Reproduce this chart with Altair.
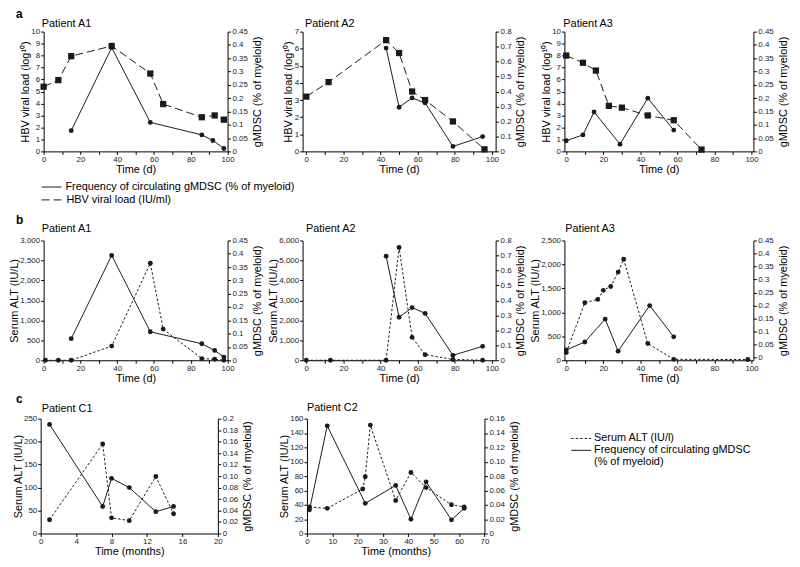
import altair as alt
import pandas as pd

# ---------------- data ----------------
# a: HBV viral load (log10) and circulating gMDSC (% of myeloid)
a1_hbv_day = [0, 8, 15, 37, 58, 65, 86, 93, 98]
a1_hbv_val = [5.4, 5.95, 7.95, 8.8, 6.5, 3.95, 2.85, 3.0, 2.65]
a1_gm_day = [15, 37, 58, 86, 92, 98]
a1_gm_val = [0.078, 0.39, 0.109, 0.062, 0.041, 0.011]

a2_hbv_day = [0, 12, 43, 50, 57, 64, 79, 96]
a2_hbv_val = [3.2, 4.05, 6.5, 5.75, 3.5, 3.0, 1.75, 0.12]
a2_gm_day = [43, 50, 57, 64, 79, 95]
a2_gm_val = [0.69, 0.295, 0.357, 0.324, 0.033, 0.099]

a3_hbv_day = [0, 9, 16, 23, 30, 44, 58, 73]
a3_hbv_val = [8.0, 7.4, 6.75, 3.8, 3.65, 3.0, 2.6, 0.15]
a3_gm_day = [0, 9, 15, 29, 44, 58]
a3_gm_val = [0.04, 0.062, 0.148, 0.027, 0.2, 0.08]

# b: serum ALT (IU/L) and gMDSC
b1_alt_day = [1, 8, 15, 37, 58, 65, 86, 93, 98]
b1_alt_val = [0, 0, 0, 355, 2430, 780, 40, 25, 0]
b1_gm_day = [15, 37, 58, 86, 93, 98]
b1_gm_val = [0.081, 0.394, 0.107, 0.062, 0.037, 0.012]

b2_alt_day = [0, 13, 43, 50, 57, 64, 79, 95]
b2_alt_val = [0, 0, 0, 5650, 1150, 280, 40, 0]
b2_gm_day = [43, 50, 57, 64, 79, 95]
b2_gm_val = [0.695, 0.287, 0.352, 0.313, 0.033, 0.093]

b3_alt_day = [0, 10, 17, 20, 24, 28, 31, 44, 58, 98]
b3_alt_val = [160, 1200, 1270, 1460, 1540, 1840, 2110, 350, 20, 15]
b3_gm_day = [0, 10, 21, 28, 45, 58]
b3_gm_val = [0.03, 0.06, 0.148, 0.025, 0.2, 0.08]

# c: serum ALT (IU/L) and gMDSC, time in months
c1_alt_mo = [1, 7, 8, 10, 13, 15]
c1_alt_val = [30, 195, 34, 28, 124, 43]
c1_gm_mo = [1, 7, 8, 10, 13, 15]
c1_gm_val = [0.19, 0.047, 0.096, 0.08, 0.038, 0.047]

c2_alt_mo = [1, 8, 22, 23, 25, 35, 41, 47, 57, 62]
c2_alt_val = [37, 35, 62, 79, 151, 46, 85, 64, 40, 37]
c2_gm_mo = [1, 8, 23, 35, 41, 47, 57, 62]
c2_gm_val = [0.033, 0.15, 0.042, 0.067, 0.02, 0.072, 0.019, 0.035]

# tick values
ticks_day = [0, 10, 20, 30, 40, 50, 60, 70, 80, 90, 100]
ticks_c1_x = [0, 4, 8, 12, 16, 20]
ticks_c2_x = [0, 10, 20, 30, 40, 50, 60, 70]
ticks_log10 = [0, 1, 2, 3, 4, 5, 6, 7, 8, 9, 10]
ticks_log7 = [0, 1, 2, 3, 4, 5, 6, 7]
ticks_045 = [0, 0.05, 0.1, 0.15, 0.2, 0.25, 0.3, 0.35, 0.4, 0.45]
ticks_08 = [0, 0.1, 0.2, 0.3, 0.4, 0.5, 0.6, 0.7, 0.8]
ticks_alt3000 = [0, 500, 1000, 1500, 2000, 2500, 3000]
ticks_alt6000 = [0, 1000, 2000, 3000, 4000, 5000, 6000]
ticks_alt2500 = [0, 500, 1000, 1500, 2000, 2500]
ticks_alt250 = [0, 50, 100, 150, 200, 250]
ticks_alt160 = [0, 20, 40, 60, 80, 100, 120, 140, 160]
ticks_020 = [0, 0.02, 0.04, 0.06, 0.08, 0.1, 0.12, 0.14, 0.16, 0.18, 0.2]
ticks_016 = [0, 0.02, 0.04, 0.06, 0.08, 0.1, 0.12, 0.14, 0.16]

# ---------------- styling / layout ----------------
FONT = "Liberation Sans"
INK = "#1a1a1a"
W, H = 792, 559
M = 8  # page margin; chart origin sits at page (8, 8)
TXT = 11

HBV_DASH = [8, 4]
ALT_DASH = [2.5, 2]


def axis(**kw):
    base = dict(grid=False, domainColor="black", tickColor="black",
                labelColor="#222", titleColor="black", labelFont=FONT,
                titleFont=FONT, labelFontSize=8, titleFontSize=TXT,
                titleFontWeight="normal", tickSize=3, labelPadding=1.5,
                labelFlush=False, labelOverlap=False, domainWidth=1,
                tickWidth=1, titlePadding=4)
    base.update(kw)
    return alt.Axis(**base)


def series(xs, vals, xscale, yscale, xaxis, yaxis, dash, marker):
    df = pd.DataFrame({"t": xs, "v": vals})
    lkw = dict(color=INK, strokeWidth=1)
    if dash:
        lkw["strokeDash"] = dash
    line = alt.Chart(df).mark_line(**lkw).encode(
        x=alt.X("t:Q", scale=xscale, axis=xaxis),
        y=alt.Y("v:Q", scale=yscale, axis=yaxis),
    )
    if marker == "square":
        pm = alt.Chart(df).mark_square(size=40, color=INK, opacity=1)
    else:
        pm = alt.Chart(df).mark_circle(size=24, color=INK, opacity=1)
    pts = pm.encode(
        x=alt.X("t:Q", scale=xscale, axis=None),
        y=alt.Y("v:Q", scale=yscale, axis=None),
    )
    return [line, pts]


def panel(x0, x1, xdom, y0, y1, xticks, xexpr, xtitle,
          ldom, lticks, lfmt, ltitle, rdom, rticks, rexpr, rtitle,
          ls, rs, ldash, lmarker):
    xscale = alt.Scale(domain=xdom, range=[x0 - M, x1 - M], nice=False, zero=False)
    lscale = alt.Scale(domain=ldom, range=[y1 - M, y0 - M], nice=False, zero=False)
    rscale = alt.Scale(domain=rdom, range=[y1 - M, y0 - M], nice=False, zero=False)
    xaxis = axis(orient="bottom", offset=(y1 - M) - H, values=xticks,
                 labelExpr=xexpr, title=xtitle, titlePadding=0)
    laxis = axis(orient="left", offset=-(x0 - M), values=lticks,
                 format=lfmt, title=ltitle, labelPadding=1, titlePadding=0.5)
    raxis = axis(orient="right", offset=(x1 - M) - W, values=rticks,
                 labelExpr=rexpr, title=rtitle, titleAngle=270,
                 titleBaseline="top", titlePadding=4)
    layers = []
    layers += series(ls[0], ls[1], xscale, lscale, xaxis, laxis, ldash, lmarker)
    layers += series(rs[0], rs[1], xscale, rscale, None, raxis, None, "circle")
    return layers


def label(text, x, y, size=TXT, weight="normal"):
    return alt.Chart(pd.DataFrame({"s": [text]})).mark_text(
        align="left", baseline="middle", font=FONT, fontSize=size,
        fontWeight=weight, color="black",
    ).encode(x=alt.value(x - M), y=alt.value(y - M), text="s:N")


def key_line(x1, x2, y, dash):
    kw = dict(color=INK, strokeWidth=1)
    if dash:
        kw["strokeDash"] = dash
    return alt.Chart(pd.DataFrame({"k": [0]})).mark_rule(**kw).encode(
        x=alt.value(x1 - M), x2=alt.value(x2 - M), y=alt.value(y - M))


X20 = "datum.value % 20 == 0 ? format(datum.value, 'd') : ''"
XALL = "format(datum.value, 'd')"
R_G = "datum.value == 0 ? '0' : format(datum.value, '~g')"
R_C1 = "datum.value == 0 ? '0' : (datum.value > 0.195 ? '0.2' : format(datum.value, '.2f'))"
R_C2 = "datum.value == 0 ? '0' : format(datum.value, '.2f')"

T_HBV = "HBV viral load (log\u00b9\u2070)"
T_GM = "gMDSC (% of myeloid)"
T_ALT = "Serum ALT (IU/L)"

# column geometry (page px)
A1X = (44, 229.8, [0, 100])
A2X = (305.6, 500.6, [-2, 102])
A3X = (570.1, 761, [-1, 101])
RA = (29, 150)
RB = (240, 361)
RC = (420, 536)

layers = []
# row a
layers += panel(*A1X, *RA, ticks_day, X20, "Time (d)", [0, 10], ticks_log10, "d", T_HBV,
                [0, 0.45], ticks_045, R_G, T_GM, (a1_hbv_day, a1_hbv_val),
                (a1_gm_day, a1_gm_val), HBV_DASH, "square")
layers += panel(*A2X, *RA, ticks_day, X20, "Time (d)", [0, 7], ticks_log7, "d", T_HBV,
                [0, 0.8], ticks_08, R_G, T_GM, (a2_hbv_day, a2_hbv_val),
                (a2_gm_day, a2_gm_val), HBV_DASH, "square")
layers += panel(*A3X, *RA, ticks_day, X20, "Time (d)", [0, 10], ticks_log10, "d", T_HBV,
                [0, 0.45], ticks_045, R_G, T_GM, (a3_hbv_day, a3_hbv_val),
                (a3_gm_day, a3_gm_val), HBV_DASH, "square")
# row b
layers += panel(*A1X, *RB, ticks_day, X20, "Time (d)", [0, 3000], ticks_alt3000, ",d", T_ALT,
                [0, 0.45], ticks_045, R_G, T_GM, (b1_alt_day, b1_alt_val),
                (b1_gm_day, b1_gm_val), ALT_DASH, "circle")
layers += panel(*A2X, *RB, ticks_day, X20, "Time (d)", [0, 6000], ticks_alt6000, ",d", T_ALT,
                [0, 0.8], ticks_08, R_G, T_GM, (b2_alt_day, b2_alt_val),
                (b2_gm_day, b2_gm_val), ALT_DASH, "circle")
layers += panel(*A3X, *RB, ticks_day, X20, "Time (d)", [0, 2500], ticks_alt2500, ",d", T_ALT,
                [-0.01, 0.45], ticks_045, R_G, T_GM, (b3_alt_day, b3_alt_val),
                (b3_gm_day, b3_gm_val), ALT_DASH, "circle")
# row c
layers += panel(41, 220, [0, 20], *RC, ticks_c1_x, XALL, "Time (months)", [0, 250], ticks_alt250, "d", T_ALT,
                [0, 0.2], ticks_020, R_C1, T_GM, (c1_alt_mo, c1_alt_val),
                (c1_gm_mo, c1_gm_val), ALT_DASH, "circle")
layers += panel(310, 489.3, [0, 70], *RC, ticks_c2_x, XALL, "Time (months)", [0, 160], ticks_alt160, "d", T_ALT,
                [0, 0.16], ticks_016, R_C2, T_GM, (c2_alt_mo, c2_alt_val),
                (c2_gm_mo, c2_gm_val), ALT_DASH, "circle")

# panel letters and titles
layers += [
    label("a", 16, 11, 12, "bold"),
    label("b", 16, 219, 12, "bold"),
    label("c", 16, 400, 12, "bold"),
    label("Patient A1", 42, 21),
    label("Patient A2", 308, 21),
    label("Patient A3", 569, 21),
    label("Patient A1", 42, 228),
    label("Patient A2", 309, 228),
    label("Patient A3", 571, 228),
    label("Patient C1", 42, 410),
    label("Patient C2", 310, 409),
]

# legends
layers += [
    key_line(42, 62, 186, None),
    label("Frequency of circulating gMDSC (% of myeloid)", 66, 186),
    key_line(42, 63, 199, HBV_DASH),
    label("HBV viral load (IU/ml)", 67, 199),
    key_line(577, 597, 440, ALT_DASH),
    label("Serum ALT (IU/l)", 600, 440),
    key_line(577, 597, 452, None),
    label("Frequency of circulating gMDSC", 600, 452),
    label("(% of myeloid)", 600, 464),
]

chart = alt.layer(*layers).resolve_scale(
    x="independent", y="independent"
).properties(
    width=W, height=H, padding=0, autosize=alt.AutoSizeParams(type="none")
).configure_view(stroke="transparent")

chart.save("out.html", embed_options={"renderer": "svg", "actions": False})
